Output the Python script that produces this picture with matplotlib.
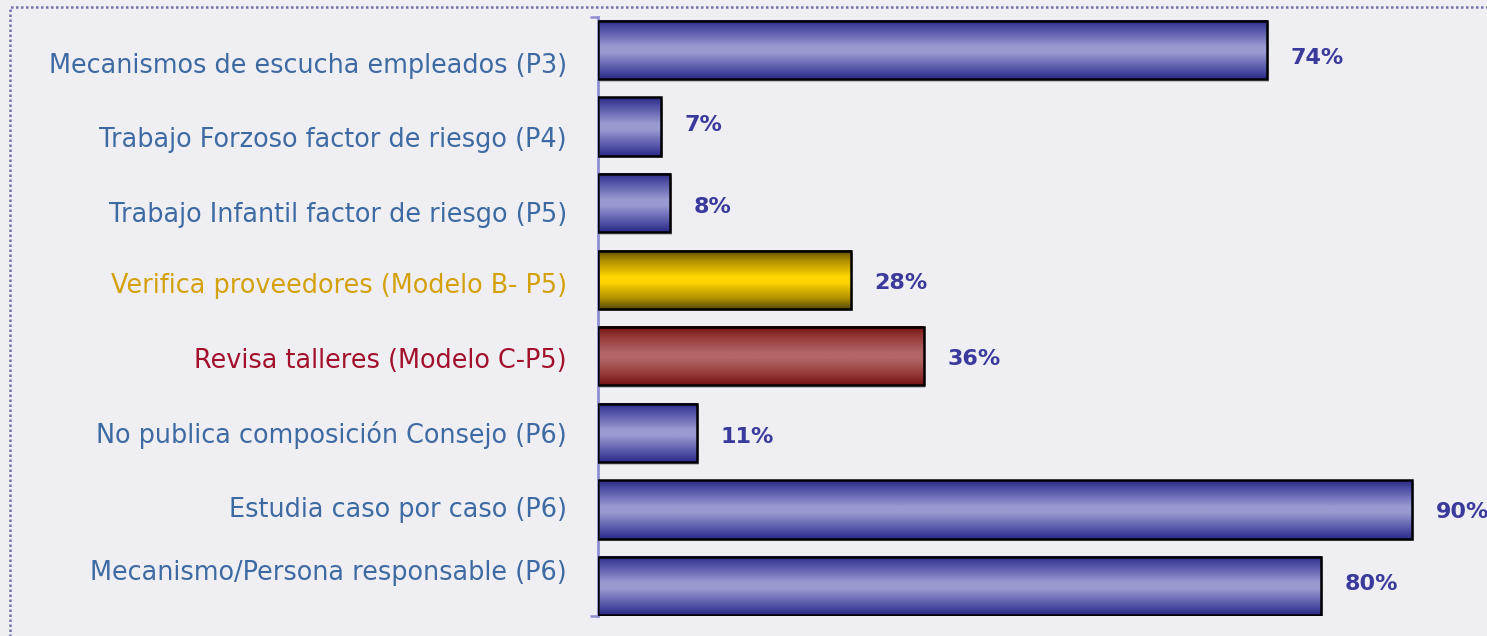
import numpy as np
import matplotlib.pyplot as plt
import matplotlib.transforms as mtransforms
from matplotlib.colors import LinearSegmentedColormap
from matplotlib.patches import Rectangle

# Datos
categorias = [
    "Mecanismos de escucha empleados (P3)",
    "Trabajo Forzoso factor de riesgo (P4)",
    "Trabajo Infantil factor de riesgo (P5)",
    "Verifica proveedores (Modelo B- P5)",
    "Revisa talleres (Modelo C-P5)",
    "No publica composición Consejo (P6)",
    "Estudia caso por caso (P6)",
    "Mecanismo/Persona responsable (P6)",
]
valores = [74, 7, 8, 28, 36, 11, 90, 80]
grupos = ["azul", "azul", "azul", "oro", "rojo", "azul", "azul", "azul"]

# Ajustes verticales (en unidades de categoría) de las líneas base del texto
desp_etiquetas = [0.300, 0.267, 0.246, 0.174, 0.153, 0.132, 0.099, -0.078]
desp_valores = [0.183, 0.052, 0.131, 0.117, 0.117, 0.131, 0.118, 0.052]

# Colores del degradado (borde -> centro -> borde)
degradados = {
    "azul": ["#2B2B8A", "#5757AA", "#9A9AD2", "#9A9AD2", "#5757AA", "#2B2B8A"],
    "oro": ["#5A4C00", "#B09000", "#FFD500", "#FFD500", "#B09000", "#5A4C00"],
    "rojo": ["#751010", "#953838", "#B26666", "#B26666", "#953838", "#751010"],
}
paradas = [0, 0.18, 0.45, 0.55, 0.82, 1]
color_texto = {"azul": "#3D6AA2", "oro": "#D4A10A", "rojo": "#A3102C"}
fondo = "#EFEEF3"

fig = plt.figure(figsize=(14.87, 6.36), dpi=100, facecolor=fondo)
ax = fig.add_axes([598 / 1487, 1 - 616 / 636, 1 - 598 / 1487, 599 / 636])
ax.set_facecolor(fondo)

alto = 0.76
grad = np.linspace(0, 1, 200).reshape(-1, 1)
for i, (v, g) in enumerate(zip(valores, grupos)):
    cmap = LinearSegmentedColormap.from_list(g, list(zip(paradas, degradados[g])))
    # sombra
    ax.add_patch(Rectangle((0.2, i - alto / 2 + 0.035), v, alto,
                           facecolor="#BEBDC6", edgecolor="none", zorder=1))
    ax.imshow(grad, cmap=cmap, aspect="auto", zorder=2,
              extent=(0, v, i + alto / 2, i - alto / 2), interpolation="bilinear")
    ax.add_patch(Rectangle((0, i - alto / 2), v, alto, facecolor="none",
                           edgecolor="black", linewidth=1.8, zorder=3))
    ax.text(v + 2.6, i + desp_valores[i], f"{v}%", ha="left", va="baseline",
            fontsize=16, fontweight="bold", color="#3A3A9C", zorder=4)

ax.set_xlim(0, 98.3)
ax.set_ylim(7.392, -0.431)

# Etiquetas de categoría
trans = mtransforms.blended_transform_factory(ax.transAxes, ax.transData)
for i, (c, g) in enumerate(zip(categorias, grupos)):
    ax.text(-31 / 889, i + desp_etiquetas[i], c, transform=trans, ha="right",
            va="baseline", fontsize=18.4, color=color_texto[g])

ax.set_yticks([])
ax.set_yticks([-0.431, 7.392], minor=True)
ax.tick_params(axis="y", which="minor", length=6, width=1.8, color="#8E8ED0",
               labelleft=False)
ax.set_xticks([])

for s in ["top", "right", "bottom"]:
    ax.spines[s].set_visible(False)
ax.spines["left"].set_color("#8E8ED0")
ax.spines["left"].set_linewidth(2)

# Borde punteado del área del gráfico
fig.patches.append(Rectangle((10 / 1487, -0.1), 1.2, 1 - 7 / 636 + 0.1,
                             transform=fig.transFigure, facecolor="none",
                             edgecolor="#7272AA", linewidth=1.8,
                             linestyle=(0, (1, 1))))

fig.savefig("out.png", dpi=100, facecolor=fondo)
